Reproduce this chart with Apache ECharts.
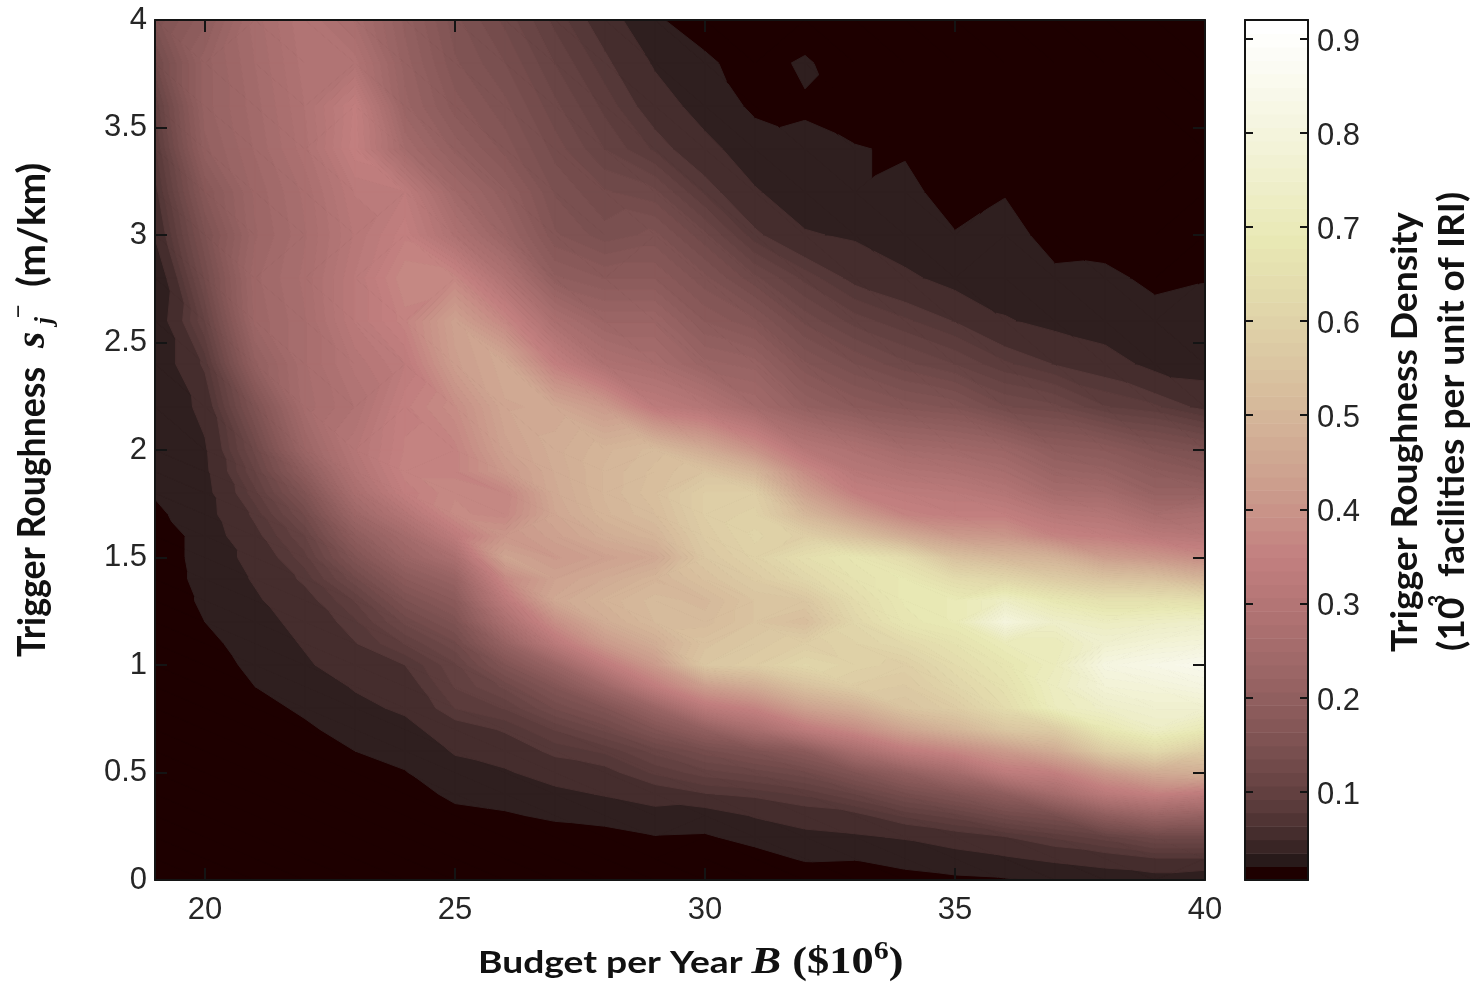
<!DOCTYPE html>
<html><head><meta charset="utf-8">
<style>html,body{margin:0;padding:0;background:#fff}#c{width:1480px;height:985px;filter:blur(0.5px)}</style>
<script src="https://cdn.jsdelivr.net/npm/echarts@6/dist/echarts.min.js"></script>
</head><body><div id="c"></div>
<script>
const roughness=[0,.1,.2,.3,.4,.5,.6,.7,.8,.9,1,1.1,1.2,1.3,1.4,1.5,1.6,1.7,1.8,1.9,2,2.2,2.4,2.6,2.8,3,3.2,3.4,3.6,3.8,4];
const budgets=[19,20,21,22,23,24,25,26,27,28,29,30,31,32,33,34,35,36,37,38,39,40];
const b19=[.005,.005,.005,.005,.005,.005,.005,.005,.005,.005,.005,.005,.005,.005,.005,.005,.005,.015,.022,.025,.028,.022,.024,.024,.018,.045,.06,.075,.09,.12,.15];
const b20=[.005,.005,.005,.005,.005,.005,.005,.005,.005,.008,.01,.014,.02,.024,.028,.03,.03,.034,.035,.038,.04,.05,.07,.10,.125,.145,.17,.20,.21,.21,.19];
const b21=[.005,.005,.005,.005,.005,.005,.005,.008,.014,.02,.025,.03,.035,.04,.045,.05,.06,.07,.085,.10,.115,.15,.20,.23,.235,.225,.23,.24,.245,.25,.255];
const b22=[.005,.005,.005,.005,.005,.005,.009,.017,.023,.03,.04,.045,.05,.058,.07,.085,.10,.125,.155,.19,.225,.255,.26,.26,.265,.26,.265,.28,.285,.29,.295];
const b23=[.005,.005,.005,.005,.005,.012,.02,.027,.037,.045,.055,.065,.075,.09,.12,.155,.19,.23,.265,.29,.305,.285,.30,.32,.32,.31,.32,.35,.345,.29,.26];
const b24=[.005,.005,.005,.005,.012,.019,.027,.036,.047,.055,.066,.09,.115,.145,.18,.22,.25,.30,.345,.36,.355,.35,.33,.36,.375,.35,.33,.25,.22,.21,.20];
const b25=[.005,.005,.006,.015,.024,.035,.045,.056,.078,.09,.098,.12,.15,.18,.215,.27,.33,.38,.375,.36,.36,.385,.43,.44,.37,.28,.24,.20,.175,.16,.15];
const b26=[.005,.005,.008,.018,.027,.04,.055,.068,.09,.115,.155,.21,.27,.325,.375,.45,.41,.37,.365,.42,.44,.455,.465,.37,.285,.22,.195,.165,.15,.135,.12];
const b27=[.005,.006,.012,.023,.036,.055,.07,.09,.125,.16,.22,.32,.39,.46,.445,.42,.44,.455,.465,.47,.475,.46,.35,.27,.195,.16,.145,.13,.115,.10,.085];
const b28=[.006,.008,.014,.026,.045,.06,.08,.115,.155,.23,.33,.42,.475,.495,.47,.44,.475,.50,.505,.505,.50,.42,.28,.225,.18,.14,.125,.10,.085,.07,.055];
const b29=[.006,.01,.019,.034,.055,.08,.105,.155,.22,.34,.42,.475,.515,.52,.50,.46,.50,.525,.535,.53,.52,.33,.26,.225,.18,.15,.115,.075,.055,.04,.022];
const b30=[.006,.01,.018,.03,.065,.095,.13,.20,.32,.43,.56,.545,.52,.51,.54,.56,.575,.585,.585,.55,.47,.30,.22,.18,.15,.115,.075,.05,.033,.023,.012];
const b31=[.006,.013,.026,.045,.07,.105,.15,.26,.36,.47,.58,.565,.55,.55,.575,.60,.61,.60,.585,.50,.40,.25,.21,.16,.115,.07,.045,.03,.016,.012,.006];
const b32=[.008,.022,.036,.055,.08,.12,.18,.33,.44,.54,.62,.585,.53,.56,.62,.65,.59,.51,.44,.38,.31,.205,.16,.12,.085,.045,.03,.024,.018,.023,.006];
const b33=[.009,.021,.04,.06,.10,.155,.26,.38,.48,.58,.60,.605,.62,.64,.665,.68,.54,.43,.35,.31,.28,.18,.135,.095,.06,.04,.021,.021,.012,.006,.005];
const b34=[.012,.028,.045,.08,.13,.20,.33,.45,.55,.57,.59,.63,.68,.69,.69,.64,.47,.36,.33,.29,.25,.165,.115,.08,.048,.028,.025,.018,.01,.006,.005];
const b35=[.016,.033,.055,.095,.155,.25,.37,.50,.58,.615,.64,.665,.70,.70,.64,.54,.42,.345,.32,.28,.24,.155,.10,.065,.034,.021,.012,.008,.006,.005,.005];
const b36=[.018,.04,.065,.12,.19,.33,.42,.56,.64,.66,.68,.71,.81,.74,.62,.51,.41,.345,.30,.26,.225,.125,.08,.045,.03,.026,.019,.006,.005,.005,.005];
const b37=[.022,.048,.08,.135,.25,.35,.47,.58,.72,.73,.72,.71,.75,.69,.58,.49,.36,.31,.255,.22,.19,.115,.065,.036,.023,.014,.007,.005,.005,.005,.005];
const b38=[.028,.055,.095,.19,.32,.42,.58,.69,.75,.79,.82,.77,.73,.66,.55,.43,.345,.30,.25,.21,.18,.09,.055,.028,.024,.012,.006,.005,.005,.005,.005];
const b39=[.032,.065,.115,.22,.35,.47,.63,.74,.77,.80,.84,.79,.74,.66,.54,.41,.32,.26,.21,.185,.155,.08,.035,.026,.016,.007,.005,.005,.005,.005,.005];
const b40=[.025,.065,.115,.21,.33,.48,.58,.70,.77,.82,.86,.80,.75,.65,.50,.38,.31,.27,.21,.17,.14,.06,.032,.027,.019,.008,.006,.005,.005,.005,.005];
const density=[b19,b20,b21,b22,b23,b24,b25,b26,b27,b28,b29,b30,b31,b32,b33,b34,b35,b36,b37,b38,b39,b40];
const xTicks=[20,25,30,35,40];
const yTicks=[0,.5,1,1.5,2,2.5,3,3.5,4];
const barTicks=[.1,.2,.3,.4,.5,.6,.7,.8,.9];
const V_MIN=.006,V_MAX=.92;
const levels=[.02,.043,.066];
while(levels[levels.length-1]<.95) levels.push(levels[levels.length-1]+.0115);

const cl=v=>Math.max(0,Math.min(1,v));
function pink(v){ // MATLAB "pink" colour map
  const t=cl(v/V_MAX);
  const hr=cl(t/.375),hg=cl((t-.375)/.375),hb=cl((t-.75)/.25);
  const f=h=>Math.round(255*Math.sqrt((2*t+h)/3));
  return t===0?'#1e0000':`rgb(${Math.max(30,f(hr))},${f(hg)},${f(hb)})`;
}
function clip(poly,lev,above){
  const out=[];
  for(let i=0;i<poly.length;i++){
    const a=poly[i],b=poly[(i+1)%poly.length];
    const ia=above?a[2]>=lev:a[2]<=lev, ib=above?b[2]>=lev:b[2]<=lev;
    if(ia) out.push(a);
    if(ia!==ib){const s=(lev-a[2])/(b[2]-a[2]);out.push([a[0]+s*(b[0]-a[0]),a[1]+s*(b[1]-a[1]),lev]);}
  }
  return out;
}
function bands(tri,children){
  const zMin=Math.min(tri[0][2],tri[1][2],tri[2][2]),zMax=Math.max(tri[0][2],tri[1][2],tri[2][2]);
  if(zMax>=0&&zMin<levels[0]){const p=clip(tri,levels[0],false);if(p.length>2)children.push(poly(p,'#1e0000'));}
  for(let k=0;k<levels.length-1;k++){
    const lo=levels[k],hi=levels[k+1];
    if(zMax<lo||zMin>hi) continue;
    const p=clip(clip(tri,lo,true),hi,false);
    if(p.length>2) children.push(poly(p,pink(lo)));
  }
}
function poly(p,c){return {type:'polygon',silent:true,shape:{points:p.map(q=>[q[0],q[1]])},style:{fill:c,stroke:c,lineWidth:1}};}
const cells=[];
for(let i=0;i<budgets.length-1;i++)for(let j=0;j<roughness.length-1;j++){
  cells.push([budgets[i],roughness[j],budgets[i+1],roughness[j+1],density[i][j],density[i+1][j],density[i][j+1],density[i+1][j+1]]);
}
function renderCell(params,api){
  const x0=api.value(0),y0=api.value(1),x1=api.value(2),y1=api.value(3);
  const a=api.coord([x0,y0]),b=api.coord([x1,y0]),c=api.coord([x0,y1]),d=api.coord([x1,y1]);
  const A=[a[0],a[1],api.value(4)],B=[b[0],b[1],api.value(5)],C=[c[0],c[1],api.value(6)],D=[d[0],d[1],api.value(7)];
  const children=[];
  if(Math.abs(A[2]-D[2])<Math.abs(B[2]-C[2])){bands([A,B,D],children);bands([A,D,C],children);}
  else{bands([A,B,C],children);bands([B,D,C],children);}
  return {type:'group',children};
}
const barSteps=[];
for(let i=0;i<64;i++){barSteps.push([V_MIN+(V_MAX-V_MIN)*i/64,V_MIN+(V_MAX-V_MIN)*(i+1)/64,i===0?0:V_MAX*i/63]);}
function renderStep(params,api){
  const a=api.coord([0,api.value(0)]),b=api.coord([1,api.value(1)]);
  return {type:'rect',silent:true,shape:{x:a[0],y:b[1],width:b[0]-a[0],height:a[1]-b[1]+.5},style:{fill:pink(api.value(2))}};
}
const tickFont={fontFamily:'Liberation Sans',fontSize:31,color:'#262626'};
const line={lineStyle:{color:'#141414',width:2}};
const axis=(g,pos,labelMargin,vals,extra,len,label)=>Object.assign({type:'value',gridIndex:g,position:pos,z:10,
  splitLine:{show:false},axisLine:{show:true,onZero:false,...line},
  axisTick:{show:!!vals,inside:true,length:len||12,customValues:vals||[],...line},
  axisLabel:labelMargin?{show:true,customValues:vals,margin:labelMargin,...tickFont,...label}:{show:false}},extra);
const barLabel={formatter:v=>`{a|${v}}`,rich:{a:{...tickFont,padding:[7,0,0,0]}}};
const titleFont={fontFamily:'Lato',fontWeight:700,fontSize:31,fill:'#111'};
const rotText=(x,y,sx,sy,style)=>({type:'text',x,y,rotation:Math.PI/2,scaleX:sx,scaleY:sy,silent:true,style:{...titleFont,textAlign:'left',textVerticalAlign:'middle',verticalAlign:'middle',...style}});
const option={
  animation:false,
  grid:[{left:155,top:20,width:1050,height:860,show:true,backgroundColor:'#1e0000',borderWidth:0},{left:1245,top:20,width:63,height:860}],
  xAxis:[
    axis(0,'bottom',15,xTicks,{min:19,max:40}),
    axis(0,'top',0,xTicks,{min:19,max:40}),
    axis(1,'bottom',0,null,{min:0,max:1}),
    axis(1,'top',0,null,{min:0,max:1})
  ],
  yAxis:[
    axis(0,'left',8,yTicks,{min:0,max:4},12,{padding:[4,0,0,0]}),
    axis(0,'right',0,yTicks,{min:0,max:4}),
    axis(1,'left',0,barTicks,{min:V_MIN,max:V_MAX},8),
    axis(1,'right',9,barTicks,{min:V_MIN,max:V_MAX},8,barLabel)
  ],
  series:[
    {type:'custom',xAxisIndex:0,yAxisIndex:0,clip:true,silent:true,progressive:0,data:cells,renderItem:renderCell,encode:{x:0,y:1},z:1},
    {type:'custom',xAxisIndex:2,yAxisIndex:2,clip:true,silent:true,progressive:0,data:barSteps,renderItem:renderStep,encode:{y:0},z:1}
  ],
  graphic:[
    {type:'text',x:478,y:963,scaleX:1.2,scaleY:1,silent:true,style:{...titleFont,textAlign:'left',verticalAlign:'middle',textVerticalAlign:'middle',text:'{t|Budget per Year }{b|B}{m| ($10}{s|6}{m|)}',rich:{
      t:{fontFamily:'Lato',fontWeight:700,fontSize:31},
      b:{fontFamily:'Liberation Serif',fontStyle:'italic',fontWeight:700,fontSize:37},
      m:{fontFamily:'Liberation Serif',fontWeight:700,fontSize:37},
      s:{fontFamily:'Liberation Serif',fontWeight:700,fontSize:25,verticalAlign:'top',lineHeight:46}}}},
    rotText(33,657,1.15,1.2,{text:'Trigger Roughness'}),
    rotText(33,348,1,1,{text:'s',fontFamily:'Liberation Serif',fontStyle:'italic',fontWeight:700,fontSize:42}),
    rotText(46,324,1,1,{text:'j',fontFamily:'Liberation Serif',fontStyle:'italic',fontWeight:700,fontSize:25}),
    rotText(20,318,1,1,{text:'−',fontFamily:'Liberation Serif',fontWeight:700,fontSize:24}),
    rotText(33,287,1.25,1.2,{text:'(m/km)'}),
    rotText(1405,652,1.24,1.2,{text:'Trigger Roughness Density',fontSize:30}),
    rotText(1452,651,1.24,1.2,{text:'(10',fontSize:30}),
    rotText(1438,607,1,1.1,{text:'3',fontSize:21}),
    rotText(1452,577,1.24,1.2,{text:'facilities per unit of IRI)',fontSize:30})
  ]
};
const chart=echarts.init(document.getElementById('c'),null,{renderer:'canvas'});
chart.setOption(option);
</script></body></html>
